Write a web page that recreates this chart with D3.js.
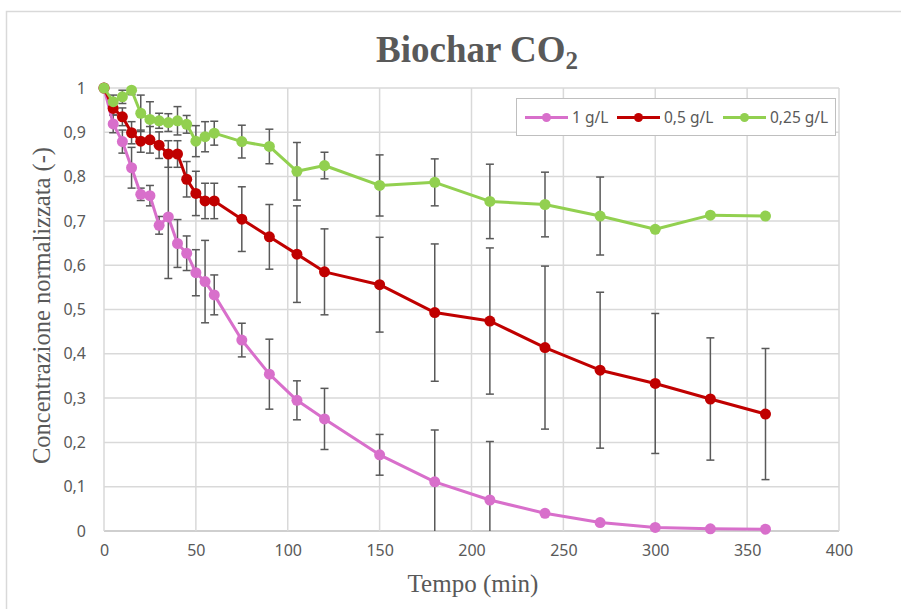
<!DOCTYPE html>
<html>
<head>
<meta charset="utf-8">
<script src="https://cdn.jsdelivr.net/npm/d3@7/dist/d3.min.js"></script>
<style>
  html, body { margin: 0; padding: 0; background: #ffffff; }
  svg { display: block; }
</style>
</head>
<body>
<svg id="chart" width="901" height="609"></svg>
<script>
// ---------- DATA ----------
const times = [0,5,10,15,20,25,30,35,40,45,50,55,60,75,90,105,120,150,180,210,240,270,300,330,360];

const series1 = [1.000,0.919,0.879,0.820,0.760,0.757,0.690,0.709,0.649,0.627,0.583,0.563,0.533,0.431,0.354,0.295,0.253,0.172,0.111,0.070,0.040,0.019,0.008,0.005,0.004];
const err1    = [0,0.020,0.026,0.046,0.014,0.023,0.020,0.139,0.054,0.039,0.052,0.093,0.045,0.038,0.079,0.044,0.069,0.046,0.117,0.132,0,0,0,0,0];

const series05 = [1.000,0.954,0.935,0.899,0.880,0.883,0.871,0.851,0.851,0.794,0.762,0.745,0.745,0.704,0.664,0.625,0.585,0.556,0.493,0.474,0.414,0.363,0.333,0.298,0.264];
const err05    = [0,0.015,0.020,0.025,0.025,0.030,0.030,0.030,0.030,0.040,0.050,0.040,0.040,0.073,0.073,0.109,0.097,0.107,0.155,0.165,0.184,0.176,0.158,0.138,0.148];

const series025 = [1.000,0.969,0.980,0.995,0.943,0.929,0.926,0.922,0.926,0.918,0.880,0.890,0.898,0.879,0.868,0.812,0.825,0.780,0.787,0.744,0.737,0.711,0.681,0.713,0.711];
const err025    = [0,0.015,0.015,0.010,0.041,0.040,0.017,0.020,0.032,0.020,0.035,0.034,0.027,0.037,0.039,0.065,0.030,0.069,0.053,0.084,0.073,0.088,0,0,0];

const seriesNames  = ["1 g/L", "0,5 g/L", "0,25 g/L"];
const seriesColors = ["#d86fcb", "#c00000", "#92d050"];

const xTicks = [0,50,100,150,200,250,300,350,400];
const yTicks = [0,0.1,0.2,0.3,0.4,0.5,0.6,0.7,0.8,0.9,1];
const yTickLabels = ["0","0,1","0,2","0,3","0,4","0,5","0,6","0,7","0,8","0,9","1"];

const titleMain = "Biochar CO";
const titleSub = "2";
const xTitle = "Tempo (min)";
const yTitle = "Concentrazione normalizzata (-)";

// ---------- LAYOUT ----------
const svg = d3.select("#chart");
const plot = { left: 104, right: 839, top: 88, bottom: 531 };

const x = d3.scaleLinear().domain([0, 400]).range([plot.left, plot.right]);
const y = d3.scaleLinear().domain([0, 1]).range([plot.bottom, plot.top]);

// chart border
svg.append("rect")
  .attr("x", 6.5).attr("y", 11.5)
  .attr("width", 1000).attr("height", 1000)
  .attr("fill", "#ffffff")
  .attr("stroke", "#d9d9d9").attr("stroke-width", 1.5);

// gridlines
const grid = svg.append("g");
grid.selectAll("line.h").data(yTicks).enter().append("line")
  .attr("x1", plot.left).attr("x2", plot.right)
  .attr("y1", d => y(d)).attr("y2", d => y(d))
  .attr("stroke", d => d === 0 ? "#bfbfbf" : "#d9d9d9").attr("stroke-width", 1.5);
grid.selectAll("line.v").data(xTicks).enter().append("line")
  .attr("y1", plot.top).attr("y2", plot.bottom)
  .attr("x1", d => x(d)).attr("x2", d => x(d))
  .attr("stroke", "#d9d9d9").attr("stroke-width", 1.5);

// axes labels via d3 axes
const xAxis = d3.axisBottom(x).tickValues(xTicks).tickSize(0).tickPadding(14).tickFormat(d3.format("d"));
const gx = svg.append("g").attr("transform", `translate(0,${plot.bottom})`).call(xAxis);
gx.select(".domain").remove();
gx.selectAll("text").attr("fill", "#595959").style("font-family", "'Noto Sans', sans-serif").style("font-size", "16px");

const yAxis = d3.axisLeft(y).tickValues(yTicks).tickSize(0).tickPadding(18)
  .tickFormat((d, i) => yTickLabels[i]);
const gy = svg.append("g").attr("transform", `translate(${plot.left},0)`).call(yAxis);
gy.select(".domain").remove();
gy.selectAll("text").attr("fill", "#595959").style("font-family", "'Noto Sans', sans-serif").style("font-size", "16px");

// titles
const t = svg.append("text")
  .attr("x", 477).attr("y", 62)
  .attr("text-anchor", "middle")
  .attr("fill", "#595959")
  .style("font-family", "'Liberation Serif', 'Times New Roman', serif")
  .style("font-weight", "bold").style("font-size", "37px");
t.append("tspan").text(titleMain);
t.append("tspan").attr("dy", 7).style("font-size", "25px").text(titleSub);

svg.append("text")
  .attr("x", 473).attr("y", 592)
  .attr("text-anchor", "middle").attr("fill", "#595959")
  .style("font-family", "'Liberation Serif', 'Times New Roman', serif")
  .style("font-size", "25px").text(xTitle);

svg.append("text")
  .attr("transform", `translate(50,${(plot.top + plot.bottom) / 2 - 4}) rotate(-90)`)
  .attr("text-anchor", "middle").attr("fill", "#595959")
  .style("font-family", "'Liberation Serif', 'Times New Roman', serif")
  .style("font-size", "24.5px").text(yTitle);

// ---------- SERIES ----------
const allSeries = [
  { name: seriesNames[0], color: seriesColors[0], vals: series1, errs: err1 },
  { name: seriesNames[1], color: seriesColors[1], vals: series05, errs: err05 },
  { name: seriesNames[2], color: seriesColors[2], vals: series025, errs: err025 }
];

svg.append("clipPath").attr("id", "clip").append("rect")
  .attr("x", plot.left - 10).attr("y", plot.top - 10)
  .attr("width", plot.right - plot.left + 20).attr("height", plot.bottom - plot.top + 10);

const capW = 4;
const errG = svg.append("g").attr("clip-path", "url(#clip)");
allSeries.forEach(s => {
  const pts = times.map((t, i) => ({ t, v: s.vals[i], e: s.errs[i] })).filter(p => p.e > 0);
  const g = errG.append("g").attr("stroke", "#595959").attr("stroke-width", 1.5).attr("fill", "none");
  g.selectAll("line.bar").data(pts).enter().append("line")
    .attr("x1", p => x(p.t)).attr("x2", p => x(p.t))
    .attr("y1", p => y(Math.min(1, p.v + p.e))).attr("y2", p => y(Math.max(0, p.v - p.e)));
  g.selectAll("line.top").data(pts.filter(p => p.v + p.e <= 1)).enter().append("line")
    .attr("x1", p => x(p.t) - capW).attr("x2", p => x(p.t) + capW)
    .attr("y1", p => y(p.v + p.e)).attr("y2", p => y(p.v + p.e));
  g.selectAll("line.bot").data(pts.filter(p => p.v - p.e >= 0)).enter().append("line")
    .attr("x1", p => x(p.t) - capW).attr("x2", p => x(p.t) + capW)
    .attr("y1", p => y(p.v - p.e)).attr("y2", p => y(p.v - p.e));
});

const line = d3.line().x(d => x(d.t)).y(d => y(d.v));
allSeries.forEach(s => {
  const pts = times.map((t, i) => ({ t, v: s.vals[i] }));
  svg.append("path").datum(pts)
    .attr("d", line).attr("fill", "none")
    .attr("stroke", s.color).attr("stroke-width", 3).attr("stroke-linejoin", "round");
  svg.append("g").selectAll("circle").data(pts).enter().append("circle")
    .attr("cx", d => x(d.t)).attr("cy", d => y(d.v)).attr("r", 5.5)
    .attr("fill", s.color);
});

// ---------- LEGEND ----------
const lg = svg.append("g");
lg.append("rect").attr("x", 516.5).attr("y", 98.5).attr("width", 319).attr("height", 37)
  .attr("fill", "#ffffff").attr("stroke", "#bfbfbf").attr("stroke-width", 1);
const legendX = [525, 617, 723];
const ly = 117.5;
allSeries.forEach((s, i) => {
  const lx = legendX[i];
  lg.append("line").attr("x1", lx).attr("x2", lx + 43).attr("y1", ly).attr("y2", ly)
    .attr("stroke", s.color).attr("stroke-width", 3);
  lg.append("circle").attr("cx", lx + 21.5).attr("cy", ly).attr("r", 4.5).attr("fill", s.color);
  lg.append("text").attr("x", lx + 47).attr("y", ly + 5.5)
    .attr("fill", "#595959")
    .style("font-family", "'Noto Sans', sans-serif").style("font-size", "15.5px")
    .text(s.name);
});
</script>
</body>
</html>
